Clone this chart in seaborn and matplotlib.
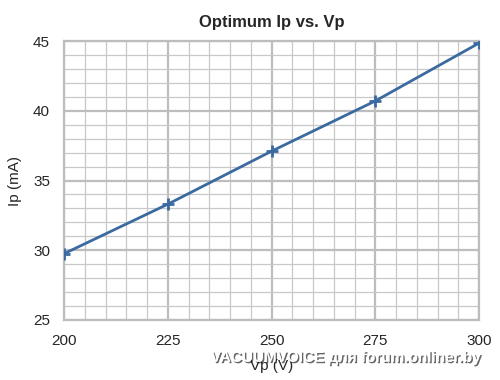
#!/usr/bin/env python3

import seaborn as sns
import pandas as pd
import matplotlib.pyplot as plt
import matplotlib.patheffects as pe
from matplotlib.ticker import MultipleLocator

vp = [200, 225, 250, 275, 300]
ip = [29.75, 33.3, 37.1, 40.7, 44.85]

sns.set_style("white")
plt.rcParams['font.family'] = ['Liberation Sans', 'DejaVu Sans']

df = pd.DataFrame({"Vp": vp, "Ip": ip})
line_color = "#3b6aa0"

fig = plt.figure(figsize=(5, 3.8), dpi=100)
ax = fig.add_axes([0.128, 0.158, 0.83, 0.734])
sns.lineplot(data=df, x="Vp", y="Ip", ax=ax, color=line_color, linewidth=2,
             marker="+", markersize=8, markeredgewidth=2,
             markeredgecolor=line_color, zorder=3)

ax.set_xlim(200, 300)
ax.set_ylim(25, 45)
ax.xaxis.set_major_locator(MultipleLocator(25))
ax.xaxis.set_minor_locator(MultipleLocator(5))
ax.yaxis.set_major_locator(MultipleLocator(5))
ax.yaxis.set_minor_locator(MultipleLocator(1))
ax.grid(which="major", color="#bdbdbd", linewidth=1.6)
ax.grid(which="minor", color="#c8c8c8", linewidth=0.9)
ax.tick_params(which="both", length=0, labelsize=11, pad=10)
for s in ax.spines.values():
    s.set_color("#bdbdbd")
    s.set_linewidth(1.6)

ax.set_title("Optimum Ip vs. Vp", fontsize=12, fontweight="bold", pad=10)
ax.set_xlabel("Vp (V)", fontsize=11, labelpad=8)
ax.set_ylabel("Ip (mA)", fontsize=11, labelpad=8)

# watermark sits over the x label, as in the source image
fig.text(0.962, 0.04, "VACUUMVOICE для forum.onliner.by", ha="right", va="bottom",
         color="white", fontsize=11, fontweight="bold",
         path_effects=[pe.withSimplePatchShadow(offset=(1, -1), shadow_rgbFace="black", alpha=0.6)])

plt.savefig("out.png")
